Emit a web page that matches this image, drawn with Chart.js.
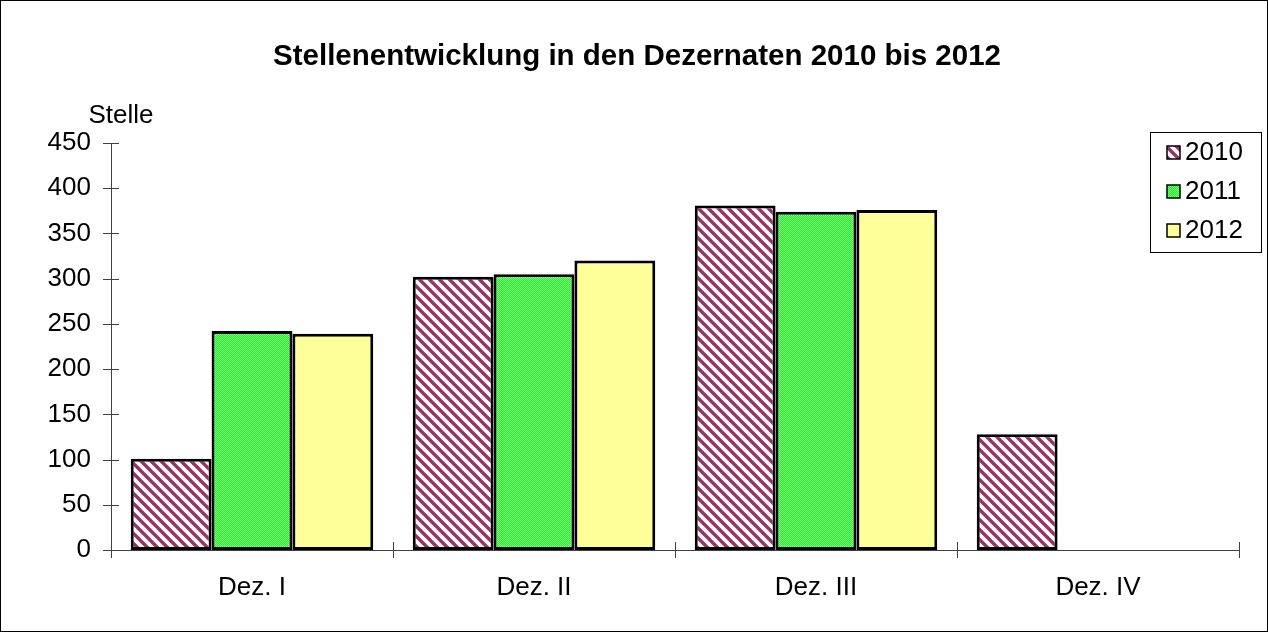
<!DOCTYPE html>
<html>
<head>
<meta charset="utf-8">
<script src="https://cdn.jsdelivr.net/npm/chart.js@4/dist/chart.umd.min.js"></script>
<style>
  html, body { margin: 0; padding: 0; background: #fff; }
  #wrap { width: 1268px; height: 632px; }
</style>
</head>
<body>
<div id="wrap"><canvas id="chart" width="1268" height="632"></canvas></div>
<script>
const categories = ['Dez. I', 'Dez. II', 'Dez. III', 'Dez. IV'];
const years = ['2010', '2011', '2012'];
const values2010 = [101, 302, 381, 128];
const values2011 = [242, 305, 374, null];
const values2012 = [239, 320, 376, null];
const yMin = 0, yMax = 450, yStep = 50;
const titleText = 'Stellenentwicklung in den Dezernaten 2010 bis 2012';

const FONT = '"Liberation Sans", Arial, sans-serif';

// fill patterns like the old office chart
function stripePattern() {
    const c = document.createElement('canvas');
    const s = 10;
    c.width = s; c.height = s;
    const g = c.getContext('2d');
    g.fillStyle = '#fff';
    g.fillRect(0, 0, s, s);
    g.strokeStyle = '#993366';
    g.lineWidth = 3.4;
    for (const k of [-s, 0, s]) {
        g.beginPath();
        g.moveTo(k - 2, -2);
        g.lineTo(k + s + 2, s + 2);
        g.stroke();
    }
    return g.createPattern(c, 'repeat');
}

function dotPattern() {
    const c = document.createElement('canvas');
    c.width = 2; c.height = 2;
    const g = c.getContext('2d');
    g.fillStyle = '#00ff00';
    g.fillRect(0, 0, 2, 2);
    g.fillStyle = '#a0ffa0';
    g.fillRect(0, 0, 1, 1);
    g.fillRect(1, 1, 1, 1);
    return g.createPattern(c, 'repeat');
}

const fills = [stripePattern(), dotPattern(), '#ffff99'];

const extras = {
    id: 'extras',
    afterDraw(chart) {
        const ctx = chart.ctx;
        const x = chart.scales.x, y = chart.scales.y;
        ctx.save();
        // tick marks crossing the axes
        ctx.strokeStyle = '#404040';
        ctx.lineWidth = 1;
        ctx.beginPath();
        for (let v = yMin; v <= yMax; v += yStep) {
            const py = Math.round(y.getPixelForValue(v)) + 0.5;
            ctx.moveTo(x.left - 8, py);
            ctx.lineTo(x.left + 8, py);
        }
        const w = (x.right - x.left) / categories.length;
        for (let i = 0; i <= categories.length; i++) {
            const px = Math.round(x.left + i * w) + 0.5;
            ctx.moveTo(px, y.bottom - 8);
            ctx.lineTo(px, y.bottom + 8);
        }
        ctx.stroke();

        ctx.fillStyle = '#000';
        ctx.textBaseline = 'middle';
        ctx.textAlign = 'center';
        // title, centred on the whole picture
        ctx.font = 'bold 29.5px ' + FONT;
        ctx.fillText(titleText, 637, 57);

        // axis unit
        ctx.font = '26px ' + FONT;
        ctx.fillText('Stelle', 121, 116);

        // legend box
        ctx.strokeStyle = '#000';
        ctx.strokeRect(1150.5, 132.5, 111, 120);
        ctx.textAlign = 'left';
        chart.data.datasets.forEach((ds, i) => {
            const cy = 152 + i * 39;
            ctx.fillStyle = ds.backgroundColor;
            ctx.fillRect(1167, cy - 6, 13, 13);
            ctx.lineWidth = 1.5;
            ctx.strokeRect(1167, cy - 6, 13, 13);
            ctx.fillStyle = '#000';
            ctx.fillText(ds.label, 1185, cy + 1);
        });

        // outer frame
        ctx.lineWidth = 1;
        ctx.strokeRect(0.5, 0.5, 1267, 631);
        ctx.restore();
    }
};

new Chart(document.getElementById('chart'), {
    type: 'bar',
    data: {
        labels: categories,
        datasets: [
            { label: years[0], data: values2010, backgroundColor: fills[0] },
            { label: years[1], data: values2011, backgroundColor: fills[1] },
            { label: years[2], data: values2012, backgroundColor: fills[2] }
        ]
    },
    options: {
        responsive: false,
        animation: false,
        devicePixelRatio: 1,
        datasets: {
            bar: {
                borderColor: '#000',
                borderWidth: 3,
                borderSkipped: false,
                categoryPercentage: 0.86,
                barPercentage: 1
            }
        },
        layout: { padding: { left: 0, right: 29, top: 143, bottom: 0 } },
        plugins: {
            legend: { display: false },
            tooltip: { enabled: false },
            title: { display: false }
        },
        scales: {
            x: {
                offset: true,
                afterFit(scale) { scale.height = 82; },
                grid: { display: false, drawTicks: false },
                border: { display: true, color: '#404040', width: 1 },
                ticks: { color: '#000', font: { family: FONT, size: 26 }, padding: 22 }
            },
            y: {
                min: yMin,
                max: yMax,
                afterFit(scale) { scale.width = 111; },
                grid: { display: false, drawTicks: false },
                border: { display: true, color: '#404040', width: 1 },
                ticks: { stepSize: yStep, color: '#000', font: { family: FONT, size: 26 }, padding: 20 }
            }
        }
    },
    plugins: [extras]
});
</script>
</body>
</html>
